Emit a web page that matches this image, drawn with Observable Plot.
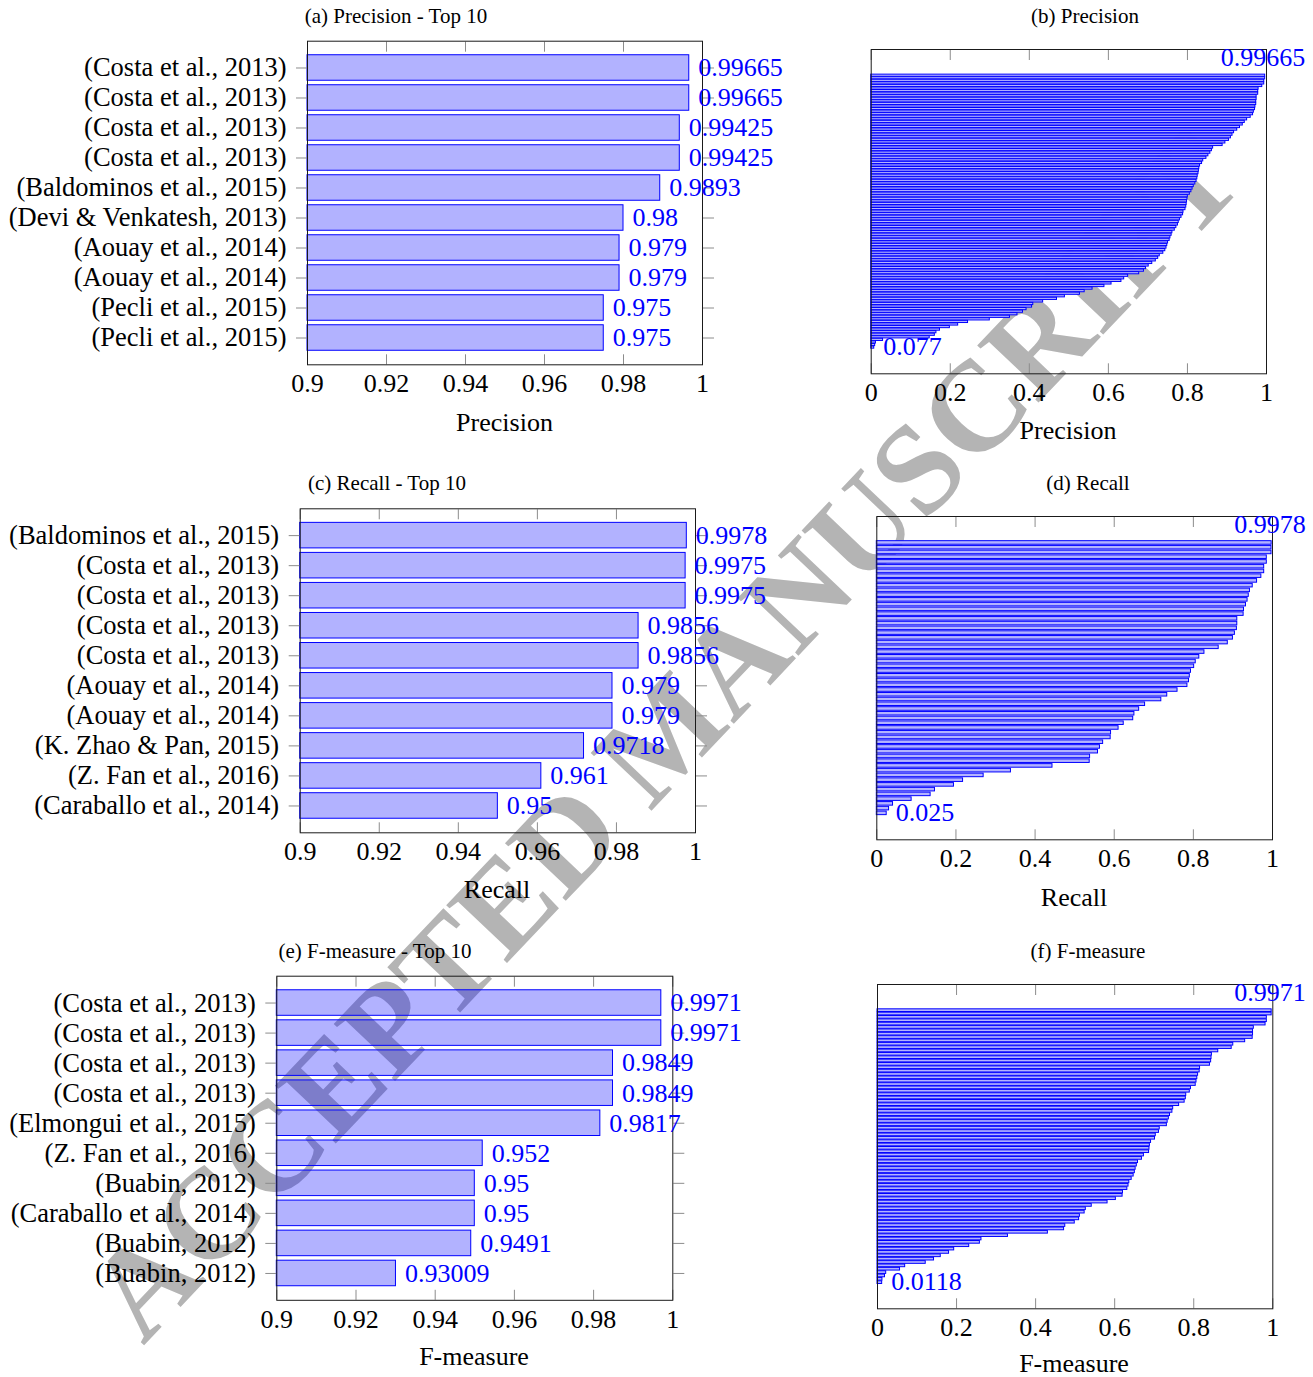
<!DOCTYPE html>
<html><head><meta charset="utf-8">
<script src="https://cdn.jsdelivr.net/npm/d3@7"></script>
<script src="https://cdn.jsdelivr.net/npm/@observablehq/plot@0.6"></script>
<style>
body{margin:0;background:#fff;}
#page{position:relative;width:1313px;height:1377px;overflow:hidden;background:#fff;font-family:"Liberation Serif","Times New Roman",serif;}
.lbl{position:absolute;white-space:nowrap;line-height:1;transform:translate(-50%,-50%);color:#000;}
.wm{position:absolute;white-space:nowrap;line-height:1;font-size:128px;font-weight:bold;color:#b4b4b4;transform:translate(-50%,-50%) rotate(-46.5deg);pointer-events:none;}
</style></head><body><div id="page"></div>
<script>
// ---------- data ----------
const precTopNames = ["(Costa et al., 2013)","(Costa et al., 2013)","(Costa et al., 2013)","(Costa et al., 2013)","(Baldominos et al., 2015)","(Devi & Venkatesh, 2013)","(Aouay et al., 2014)","(Aouay et al., 2014)","(Pecli et al., 2015)","(Pecli et al., 2015)"];
const precTopValues = [0.99665,0.99665,0.99425,0.99425,0.9893,0.98,0.979,0.979,0.975,0.975];

const recTopNames = ["(Baldominos et al., 2015)","(Costa et al., 2013)","(Costa et al., 2013)","(Costa et al., 2013)","(Costa et al., 2013)","(Aouay et al., 2014)","(Aouay et al., 2014)","(K. Zhao & Pan, 2015)","(Z. Fan et al., 2016)","(Caraballo et al., 2014)"];
const recTopValues = [0.9978,0.9975,0.9975,0.9856,0.9856,0.979,0.979,0.9718,0.961,0.95];

const fTopNames = ["(Costa et al., 2013)","(Costa et al., 2013)","(Costa et al., 2013)","(Costa et al., 2013)","(Elmongui et al., 2015)","(Z. Fan et al., 2016)","(Buabin, 2012)","(Caraballo et al., 2014)","(Buabin, 2012)","(Buabin, 2012)"];
const fTopValues = [0.9971,0.9971,0.9849,0.9849,0.9817,0.952,0.95,0.95,0.9491,0.93009];

const precAllValues = [0.99665,0.99665,0.99425,0.99425,0.9893,0.98,0.979,0.979,0.975,0.975,
 0.974,0.974,0.972,0.971,0.968,0.966,0.96,0.951,0.945,0.94,
 0.933,0.926,0.918,0.914,0.91,0.905,0.896,0.889,0.865,0.862,
 0.858,0.853,0.848,0.84,0.837,0.832,0.83,0.829,0.828,0.826,
 0.825,0.823,0.82,0.816,0.813,0.81,0.806,0.801,0.8,0.799,
 0.798,0.797,0.795,0.79,0.789,0.785,0.781,0.778,0.776,0.772,
 0.768,0.762,0.76,0.757,0.755,0.751,0.749,0.747,0.744,0.739,
 0.73,0.726,0.72,0.711,0.702,0.695,0.69,0.678,0.65,0.64,
 0.633,0.608,0.59,0.56,0.54,0.528,0.49,0.47,0.435,0.41,
 0.407,0.393,0.384,0.37,0.351,0.3,0.245,0.22,0.199,0.174,
 0.165,0.161,0.148,0.03,0.012,0.01,0.0077];

const recAllValues = [0.9978,0.9975,0.9975,0.9856,0.9856,0.979,0.979,0.9718,0.961,0.95,
 0.943,0.94,0.937,0.933,0.928,0.927,0.911,0.911,0.91,0.905,
 0.9,0.887,0.864,0.828,0.815,0.806,0.802,0.794,0.791,0.789,
 0.785,0.76,0.734,0.719,0.678,0.663,0.651,0.648,0.624,0.611,
 0.592,0.591,0.572,0.564,0.559,0.539,0.538,0.444,0.339,0.27,
 0.218,0.195,0.147,0.136,0.088,0.041,0.031,0.025];

const fAllValues = [0.9971,0.9971,0.9849,0.9849,0.9817,0.952,0.95,0.95,0.9491,0.93009,
 0.9,0.896,0.862,0.846,0.845,0.844,0.841,0.816,0.815,0.811,
 0.809,0.807,0.805,0.793,0.79,0.781,0.78,0.777,0.763,0.748,
 0.746,0.74,0.737,0.734,0.732,0.714,0.712,0.704,0.702,0.692,
 0.689,0.688,0.687,0.674,0.669,0.659,0.656,0.653,0.651,0.648,
 0.643,0.637,0.635,0.632,0.621,0.62,0.603,0.582,0.542,0.527,
 0.524,0.512,0.51,0.499,0.475,0.472,0.431,0.33,0.263,0.259,
 0.232,0.194,0.181,0.16,0.143,0.122,0.07,0.057,0.022,0.019,
 0.0125,0.0118];

const topTicks = [0.9,0.92,0.94,0.96,0.98,1];
const topTickLabels = ["0.9","0.92","0.94","0.96","0.98","1"];
const allTicks = [0,0.2,0.4,0.6,0.8,1];
const allTickLabels = ["0","0.2","0.4","0.6","0.8","1"];

const precAllLabels = ["0.99665","0.077"];
const recAllLabels = ["0.9978","0.025"];
const fAllLabels = ["0.9971","0.0118"];

const titles = ["(a) Precision - Top 10","(b) Precision","(c) Recall - Top 10","(d) Recall","(e) F-measure - Top 10","(f) F-measure"];
const axisLabels = ["Precision","Precision","Recall","Recall","F-measure","F-measure"];

// ---------- drawing ----------
const FONT = "'Liberation Serif','Times New Roman',serif";
const BLUE = "#0000ff", LIGHT = "#b3b3ff", TICK = "#8c8c8c", FRAME = "#1a1a1a";
const page = document.getElementById("page");

// watermark first, so it sits behind the charts
const wm = document.createElement("div");
wm.className = "wm";
wm.textContent = "ACCEPTED MANUSCRIPT";
wm.style.left = "664px";
wm.style.top = "735px";
page.appendChild(wm);

function place(el, left, top) {
  el.style.position = "absolute";
  el.style.left = left + "px";
  el.style.top = top + "px";
  page.appendChild(el);
}
function label(text, cx, cy, size) {
  const d = document.createElement("div");
  d.className = "lbl";
  d.textContent = text;
  d.style.fontSize = size + "px";
  d.style.left = cx + "px";
  d.style.top = cy + "px";
  page.appendChild(d);
}
function dims(b) {
  return {
    width: b.right - b.left, height: b.bottom - b.top,
    marginLeft: b.L - b.left, marginRight: b.right - b.R,
    marginTop: b.T - b.top, marginBottom: b.bottom - b.B
  };
}
function xAxes(ticks, labels) {
  return [
    Plot.axisX(ticks, {anchor: "bottom", tickSize: 0, tickPadding: 9, tickFormat: d => labels[ticks.indexOf(d)], fill: "#000", fontSize: 26, label: null}),
    Plot.axisX(ticks, {anchor: "bottom", tickSize: -10, fill: "none", stroke: TICK, label: null}),
    Plot.axisX(ticks, {anchor: "top", tickSize: -10, fill: "none", stroke: TICK, label: null})
  ];
}

function topPanel(b, names, values) {
  const idx = d3.range(values.length);
  const chart = Plot.plot({
    ...dims(b),
    style: {fontFamily: FONT, fontSize: "26px", background: "transparent", overflow: "visible"},
    x: {domain: [topTicks[0], topTicks[topTicks.length - 1]], label: null},
    y: {type: "band", domain: idx, paddingInner: 0.15, paddingOuter: 0.468, round: false, label: null},
    marks: [
      Plot.barX(values, {x1: () => topTicks[0], x2: d => d, y: (d, i) => i, fill: BLUE, fillOpacity: 0.3, stroke: BLUE, strokeWidth: 1}),
      Plot.axisY(idx, {anchor: "left", tickSize: 11, tickPadding: 10, tickFormat: i => names[i], stroke: TICK, fill: "#000", fontSize: 26.5, label: null}),
      Plot.axisY(idx, {anchor: "right", tickSize: 11, fill: "none", stroke: TICK, label: null}),
      ...xAxes(topTicks, topTickLabels),
      Plot.frame({stroke: FRAME, strokeWidth: 1}),
      Plot.text(values, {x: d => d, y: (d, i) => i, text: d => String(d), textAnchor: "start", dx: 9, fill: BLUE, fontSize: 26})
    ]
  });
  place(chart, b.left, b.top);
}

function allPanel(b, values, labels, pad, dxTop) {
  const n = values.length;
  const idx = d3.range(n);
  const chart = Plot.plot({
    ...dims(b),
    style: {fontFamily: FONT, fontSize: "26px", background: "transparent", overflow: "visible"},
    x: {domain: [allTicks[0], allTicks[allTicks.length - 1]], label: null},
    y: {type: "band", domain: idx, paddingInner: pad.inner, paddingOuter: pad.outer, round: false, axis: null, label: null},
    marks: [
      Plot.barX(values, {x1: () => 0, x2: d => d, y: (d, i) => i, fill: LIGHT, stroke: BLUE, strokeWidth: pad.stroke}),
      ...xAxes(allTicks, allTickLabels),
      Plot.frame({stroke: FRAME, strokeWidth: 1}),
      Plot.text([{v: values[0], i: 0, t: labels[0]}], {x: "v", y: "i", text: "t", textAnchor: "end", dx: dxTop, dy: -18, fill: BLUE, fontSize: 26}),
      Plot.text([{v: values[n - 1], i: n - 1, t: labels[1]}], {x: "v", y: "i", text: "t", textAnchor: "start", dx: 9, dy: -1, fill: BLUE, fontSize: 26})
    ]
  });
  place(chart, b.left, b.top);
}

topPanel({left: 0, top: 25, right: 800, bottom: 405, L: 307, R: 702, T: 40.7, B: 364.3}, precTopNames, precTopValues);
topPanel({left: 0, top: 495, right: 790, bottom: 870, L: 299.7, R: 695, T: 508.3, B: 832.3}, recTopNames, recTopValues);
topPanel({left: 0, top: 962, right: 770, bottom: 1340, L: 276.3, R: 672.3, T: 975.7, B: 1299.8}, fTopNames, fTopValues);

allPanel({left: 840, top: 38, right: 1313, bottom: 410, L: 870.7, R: 1266, T: 49, B: 373.3}, precAllValues, precAllLabels, {inner: 0.15, outer: 9.8, stroke: 1}, 40);
allPanel({left: 840, top: 505, right: 1313, bottom: 875, L: 876.3, R: 1272, T: 516, B: 839.3}, recAllValues, recAllLabels, {inner: 0.25, outer: 5.2, stroke: 1}, 34);
allPanel({left: 840, top: 973, right: 1313, bottom: 1345, L: 877, R: 1272.3, T: 984, B: 1308.3}, fAllValues, fAllLabels, {inner: 0.2, outer: 7.39, stroke: 1}, 34);

// titles and axis labels
const titlePos = [[396, 16], [1085, 16], [387, 483], [1088, 483], [375, 951], [1088, 951]];
const axisPos = [[504.5, 423], [1068, 431], [497, 890], [1074, 898], [474, 1357], [1074, 1364]];
titles.forEach((t, i) => label(t, titlePos[i][0], titlePos[i][1], 21));
axisLabels.forEach((t, i) => label(t, axisPos[i][0], axisPos[i][1], 26));
</script></body></html>
